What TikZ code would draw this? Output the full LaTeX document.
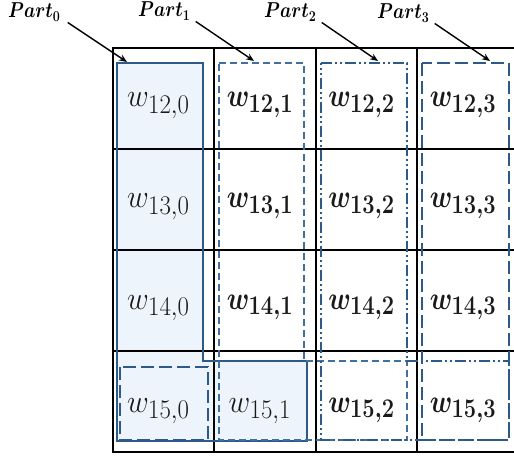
\documentclass[tikz,border=0pt]{standalone}
\usepackage{amsmath}
\usetikzlibrary{arrows.meta}
\definecolor{pblue}{HTML}{2E5A8A}
\definecolor{pblueb}{HTML}{41709F}
\definecolor{pfill}{HTML}{EEF4FB}
\definecolor{txt}{HTML}{1A1A1A}
\begin{document}
\begin{tikzpicture}[x=1pt,y=-1pt,
  gridline/.style={line width=1.8pt,black},
  partzero/.style={draw=pblue,line width=2pt,fill=pfill},
  partone/.style={draw=pblueb,line width=1.8pt,dash pattern=on 7pt off 4pt},
  parttwo/.style={draw=pblue,line width=2pt,dash pattern=on 11pt off 3pt on 2pt off 3pt on 2pt off 3pt},
  partthree/.style={draw=pblue,line width=2.8pt,dash pattern=on 13pt off 5pt},
  plabel/.style={inner sep=0pt,anchor=base west,font=\LARGE,xscale=1.04,yscale=1.25},
  wlab/.style={inner sep=0pt,anchor=base,text=txt,font=\Huge,xscale=1.2,yscale=1.3},
  wlabb/.style={wlab,xscale=0.88},
  arr/.style={line width=1.4pt,-{Stealth[length=8pt,width=6.5pt]}}]
\useasboundingbox (0,0) rectangle (514,457);
\clip (0,0) rectangle (514,457);
% Part0 fill
\fill[pfill] (117,63) -- (203,63) -- (203,361) -- (307,361) -- (307,441) -- (117,441) -- cycle;
% grid
\foreach \yy in {48,149,250,351,452} \draw[gridline] (112,\yy) -- (520,\yy);
\foreach \xx in {113,214,316,417,518} \draw[gridline] (\xx,47) -- (\xx,453);
% parts
\draw[partzero,fill=none] (117,63) -- (203,63) -- (203,361) -- (307,361) -- (307,441) -- (117,441) -- cycle;
\draw[partone] (219,63) -- (304,63) -- (304,361) -- (407,361) -- (407,440) -- (219,440) -- cycle;
\draw[parttwo] (321,63) -- (407,63) -- (407,361) -- (509,361) -- (509,440) -- (321,440) -- cycle;
\draw[partthree] (422,63) rectangle (509,440);
\draw[partthree] (120,367) rectangle (208,440);
% cell labels
\node[wlab] (w120) at (158.5,107) {$w_{12,0}$};
\node[wlab] (w130) at (158.5,208) {$w_{13,0}$};
\node[wlab] (w140) at (158.5,309) {$w_{14,0}$};
\node[wlab] (w150) at (158.5,412) {$w_{15,0}$};
\node[wlabb] (w121) at (260,107) {$\boldsymbol{w_{12,1}}$};
\node[wlabb] (w131) at (260,208) {$\boldsymbol{w_{13,1}}$};
\node[wlabb] (w141) at (260,309) {$\boldsymbol{w_{14,1}}$};
\node[wlab] (w151) at (260,412) {$w_{15,1}$};
\node[wlabb] (w122) at (361.5,107) {$\boldsymbol{w_{12,2}}$};
\node[wlabb] (w132) at (361.5,208) {$\boldsymbol{w_{13,2}}$};
\node[wlabb] (w142) at (361.5,309) {$\boldsymbol{w_{14,2}}$};
\node[wlabb] (w152) at (361.5,412) {$\boldsymbol{w_{15,2}}$};
\node[wlabb] (w123) at (463,107) {$\boldsymbol{w_{12,3}}$};
\node[wlabb] (w133) at (463,208) {$\boldsymbol{w_{13,3}}$};
\node[wlabb] (w143) at (463,309) {$\boldsymbol{w_{14,3}}$};
\node[wlabb] (w153) at (463,412) {$\boldsymbol{w_{15,3}}$};
% part labels
\node[plabel] (lab0) at (8,18) {$\boldsymbol{Part_0}$};
\node[plabel] (lab1) at (138,17) {$\boldsymbol{Part_1}$};
\node[plabel] (lab2) at (264,18) {$\boldsymbol{Part_2}$};
\node[plabel] (lab3) at (377,19) {$\boldsymbol{Part_3}$};
\coordinate (t0) at (127,62);
\coordinate (t1) at (254,61);
\coordinate (t2) at (378,61);
\coordinate (t3) at (490,61);
\draw[arr] ([xshift=7pt,yshift=-1pt]lab0.south east) -- (t0);
\draw[arr] ([xshift=5pt,yshift=-1pt]lab1.south east) -- (t1);
\draw[arr] ([xshift=5pt,yshift=-1pt]lab2.south east) -- (t2);
\draw[arr] ([xshift=5pt,yshift=-1pt]lab3.south east) -- (t3);
\end{tikzpicture}
\end{document}
